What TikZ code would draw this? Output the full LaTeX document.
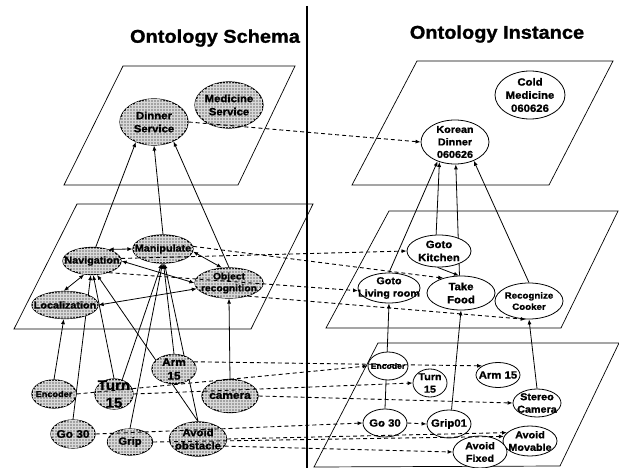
\documentclass[tikz,border=0pt]{standalone}
\usepackage{fontspec}
\setmainfont{Liberation Sans}[FakeStretch=1.08, BoldFeatures={FakeBold=1.2}]
\usetikzlibrary{patterns,arrows.meta,shapes.geometric}
\pgfdeclarelayer{under}
\pgfsetlayers{under,main}

% ellipse with a centred label that may spill over its border
% #1 style, #2 name, #3 position, #4 width, #5 height, #6 font size, #7 text
\newcommand\onode[7]{%
  \node[#1, minimum width=#4pt, minimum height=#5pt] (#2) at #3 {};
  \node[lbl, font=\bfseries\fontsize{#6}{1.25\dimexpr#6pt\relax}\selectfont] (#2t) at (#2) {#7};}

\begin{document}
\begin{tikzpicture}[x=1pt, y=-1pt,
  plane/.style={line width=0.7pt},
  schema/.style={ellipse, draw=black, line width=1.2pt, fill=gray!72,
    postaction={pattern=grid, pattern color=white!70!gray}, inner sep=0pt},
  inst/.style={ellipse, draw=black, line width=0.8pt, fill=white, inner sep=0pt},
  lbl/.style={inner sep=0pt, align=center},
  rel/.style={line width=0.8pt, -{Latex[length=5pt,width=4pt]}},
  rel2/.style={line width=0.8pt, {Latex[length=5pt,width=4pt]}-{Latex[length=5pt,width=4pt]}},
  map/.style={line width=0.9pt, dash pattern=on 4pt off 3pt, -{Latex[length=5pt,width=4pt]}},
  title/.style={font=\bfseries\fontsize{18.5}{20}\selectfont, inner sep=0pt}]

\useasboundingbox (0,0) rectangle (619,468);

% headings and divider
\node[title] (tschema) at (215,38) {Ontology Schema};
\node[title] (tinst) at (497,34) {Ontology Instance};
\draw[line width=2pt] (307,6) -- (307,468);

% planes (schema side)
\draw[plane] (123,66) -- (295,66) -- (238,185) -- (64,185) -- cycle;
\draw[plane] (77,204) -- (313,204) -- (251,329) -- (14,329) -- cycle;
% planes (instance side)
\draw[plane] (417,61) -- (613,61) -- (549,185) -- (352,185) -- cycle;
\draw[plane] (389,211) -- (618,211) -- (561,328) -- (326,328) -- cycle;
\draw[plane] (378,343) -- (619,343) -- (560,466) -- (314,467) -- cycle;

% schema concepts
\onode{schema}{din}{(154,122)}{68}{46}{10.5}{Dinner\\Service}
\onode{schema}{med}{(229,105)}{68}{46}{10.5}{Medicine\\Service}
\onode{schema}{nav}{(92,261)}{58}{27}{10}{Navigation}
\onode{schema}{man}{(163,249)}{60}{28}{10}{Manipulate}
\onode{schema}{objr}{(229,283)}{68}{30}{9.5}{Object\\recognition}
\onode{schema}{loc}{(65,305)}{66}{27}{10}{Localization}
\onode{schema}{encL}{(54,394)}{44}{28}{8.5}{Encoder}
\onode{schema}{turnL}{(114,394)}{38}{30}{14}{Turn\\15}
\onode{schema}{armL}{(174,369)}{44}{29}{11}{Arm\\15}
\onode{schema}{cam}{(230,396)}{56}{33}{11}{camera}
\onode{schema}{goL}{(73,434)}{44}{28}{11}{Go 30}
\onode{schema}{grip}{(130,442)}{45}{26}{10.5}{Grip}
\onode{schema}{avoid}{(198,439)}{57}{34}{10.5}{Avoid\\obstacle}

% instances
\onode{inst}{cold}{(530,95)}{70}{48}{10.5}{Cold\\Medicine\\060626}
\onode{inst}{kd}{(455,142)}{68}{44}{10}{Korean\\Dinner\\060626}
\onode{inst}{gk}{(439,251)}{64}{32}{10.5}{Goto\\Kitchen}
\onode{inst}{glr}{(389,288)}{62}{30}{10}{Goto\\Living room}
\onode{inst}{tf}{(461,293)}{68}{34}{10.5}{Take\\Food}
\onode{inst}{rc}{(529,301)}{68}{36}{9}{Recognize\\Cooker}
\onode{inst}{encR}{(388,366)}{40}{28}{8}{Encoder}
\onode{inst}{turnR}{(430,383)}{34}{28}{10}{Turn\\15}
\onode{inst}{armR}{(498,375)}{44}{25}{10.5}{Arm 15}
\onode{inst}{stereo}{(537,403)}{48}{28}{10}{Stereo\\Camera}
\onode{inst}{goR}{(385,423)}{44}{28}{10.5}{Go 30}
\onode{inst}{grip01}{(449,424)}{44}{28}{10.5}{Grip01}
\onode{inst}{avoidM}{(530,441)}{54}{30}{10}{Avoid\\Movable}
\onode{inst}{avoidF}{(480,452)}{54}{32}{10}{Avoid\\Fixed}

\begin{pgfonlayer}{under}
% schema relations, passing beneath the concepts
\draw[rel] (nav.75) -- (din.228);
\draw[rel] (man.north) -- (din.south);
\draw[rel] (objr.north) -- (din.-45);
\draw[rel2] (nav.35) -- (man.180);
\draw[rel2] (man.-5) -- (objr.115);
\draw[rel2] (nav.240) -- (loc.95);
\draw[rel2] (nav.east) -- (objr.west);
\draw[rel2] (loc.east) -- (objr.190);
\draw[rel] (encL.north) -- (loc.265);
\draw[rel] (goL.north) -- (nav.265);
\draw[rel] (turnL.north) -- (nav.275);
\draw[rel] (avoid.north) -- (nav.290);
\draw[rel] (turnL.60) -- (man.265);
\draw[rel] (grip.north) -- (man.268);
\draw[rel] (armL.north) -- (man.272);
\draw[rel] (avoid.north) -- (man.276);
\draw[rel] (cam.north) -- (objr.south);

% instance relations
\draw[rel] (glr.north) -- (kd.228);
\draw[rel] (gk.100) -- (kd.232);
\draw[rel] (tf.95) -- (kd.272);
\draw[rel] (rc.north) -- (kd.-45);
\draw[rel] (gk.265) -- (tf.97);
\draw[rel] (goR.north) -- (glr.south);
\draw[rel] (grip01.80) -- (tf.south);
\draw[rel] (stereo.north) -- (rc.south);
\end{pgfonlayer}

% schema to instance mappings
\draw[map] (din.east) -- (kd.west);
\draw[map] (nav.5) -- (gk.west);
\draw[map] (man.5) -- (tf.140);
\draw[map] (nav.-35) -- (glr.185);
\draw[map] (objr.-35) -- (rc.260);
\draw[map] (armL.20) -- (armR.150);
\draw[map] (encL.east) -- (encR.west);
\draw[map] (turnL.east) -- (turnR.west);
\draw[map] (cam.east) -- (stereo.west);
\draw[map] (goL.east) -- (goR.west);
\draw[map] (goR.east) -- (grip01.west);
\draw[map] (grip.east) -- (avoidM.170);
\draw[map] (avoid.east) -- (avoidM.160);
\draw[map] (avoid.-15) -- (avoidF.west);
\end{tikzpicture}
\end{document}
